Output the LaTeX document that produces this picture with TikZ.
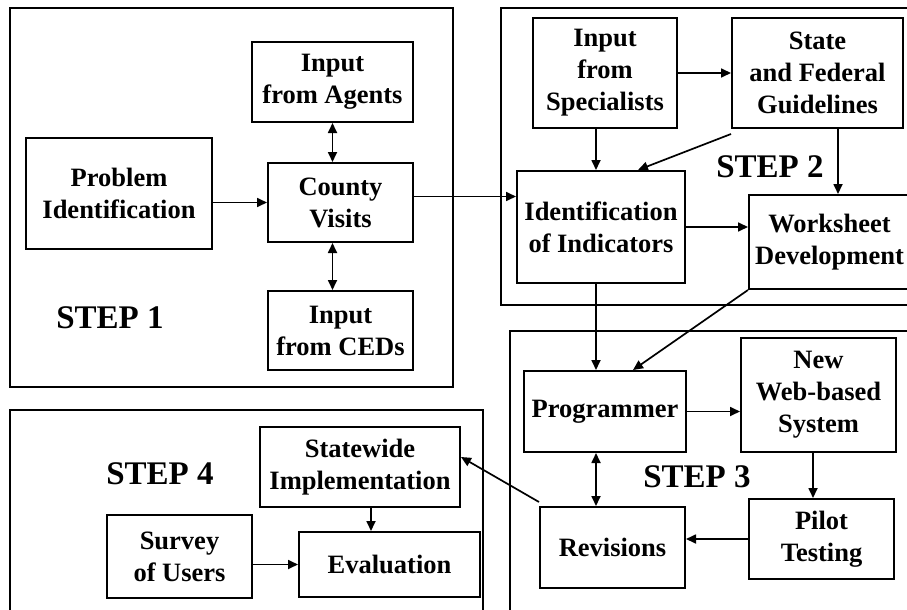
\documentclass[tikz,border=0pt]{standalone}
\usepackage{fontspec}
\setmainfont{Liberation Serif}
\usetikzlibrary{arrows.meta}
\begin{document}
\begin{tikzpicture}[x=1pt,y=-1pt,
  box/.style={draw, line width=2pt, inner sep=0pt, align=center,
    font=\fontsize{26.5}{32}\selectfont\bfseries},
  frame/.style={draw, line width=1.8pt},
  steplbl/.style={font=\fontsize{33}{38}\selectfont\bfseries, inner sep=0pt},
  arr/.style={line width=1.7pt, -{Triangle[length=10pt,width=9pt]}},
  darr/.style={line width=1.7pt, {Triangle[length=10pt,width=9pt]}-{Triangle[length=10pt,width=9pt]}}]
\useasboundingbox (0,0) rectangle (907,610);
\clip (0,0) rectangle (907,610);
% step frames
\draw[frame] (10,8) rectangle (453,387);
\draw[frame] (501,8) rectangle (915,305);
\draw[frame] (510,331) rectangle (915,618);
\draw[frame] (10,410) rectangle (483,618);
% labels
\node[steplbl] (l1) at (110,318) {STEP 1};
\node[steplbl] (l2) at (770,167) {STEP 2};
\node[steplbl] (l3) at (697,477) {STEP 3};
\node[steplbl] (l4) at (160,474) {STEP 4};
% step 1
\node[box, minimum width=186pt, minimum height=111pt] (prob) at (119,193.5) {Problem\\Identification};
\node[box, minimum width=161pt, minimum height=80pt] (agents) at (332.5,82) {Input\\from Agents};
\node[box, minimum width=145pt, minimum height=79pt] (county) at (340.5,202.5) {County\\Visits};
\node[box, minimum width=145pt, minimum height=79pt] (ceds) at (340.5,330.5) {Input\\from CEDs};
% step 2
\node[box, minimum width=144pt, minimum height=110pt] (spec) at (605,73) {Input\\from\\Specialists};
\node[box, minimum width=171pt, minimum height=110pt] (guide) at (817.5,73) {State\\and Federal\\Guidelines};
\node[box, minimum width=168pt, minimum height=112pt] (ind) at (601,227) {Identification\\of Indicators};
\node[box, minimum width=161pt, minimum height=94pt] (work) at (829.5,242) {Worksheet\\Development};
% step 3
\node[box, minimum width=162pt, minimum height=81pt] (prog) at (605,411.5) {Programmer};
\node[box, minimum width=155pt, minimum height=114pt] (web) at (818.5,395) {New\\Web-based\\System};
\node[box, minimum width=145pt, minimum height=80pt] (pilot) at (821.5,539) {Pilot\\Testing};
\node[box, minimum width=145pt, minimum height=81pt] (rev) at (612.5,547.5) {Revisions};
% step 4
\node[box, minimum width=200pt, minimum height=80pt] (stat) at (360,467) {Statewide\\Implementation};
\node[box, minimum width=145pt, minimum height=83pt] (survey) at (179.5,556.5) {Survey\\of Users};
\node[box, minimum width=181pt, minimum height=65pt] (eval) at (389.5,564.5) {Evaluation};
% connectors step 1
\draw[arr] (prob.east |- county.west) -- (county.west);
\draw[darr] (agents.south) -- (agents.south |- county.north);
\draw[darr] (agents.south |- county.south) -- (agents.south |- ceds.north);
\draw[arr] ([yshift=6pt]county.east) -- ([yshift=6pt]county.east -| ind.west);
% step 2
\draw[arr] (spec.east |- guide.west) -- (guide.west);
\draw[arr] ([xshift=-9pt]spec.south) -- ([xshift=-9pt]spec.south |- ind.north);
\draw[arr] ([yshift=-5pt]guide.south west) -- ([xshift=37pt]ind.north);
\draw[arr] ([xshift=20.5pt]guide.south) -- ([xshift=20.5pt]guide.south |- work.north);
\draw[arr] (ind.east) -- (ind.east -| work.west);
% step 3
\draw[arr] ([xshift=-5pt]ind.south) -- ([xshift=-5pt]ind.south |- prog.north);
\draw[arr] (work.south west) -- ([xshift=28pt]prog.north);
\draw[arr] (prog.east) -- (prog.east -| web.west);
\draw[arr] ([xshift=-5.5pt]web.south) -- ([xshift=-5.5pt]web.south |- pilot.north);
\draw[arr] (pilot.west) -- (pilot.west -| rev.east);
\draw[darr] ([xshift=-9pt]prog.south) -- ([xshift=-9pt]prog.south |- rev.north);
% step 4
\draw[arr] ([yshift=4pt]rev.north west) -- ([yshift=10pt]stat.east);
\draw[arr] ([xshift=11pt]stat.south) -- ([xshift=11pt]stat.south |- eval.north);
\draw[arr] (survey.east |- eval.west) -- (eval.west);
\end{tikzpicture}
\end{document}
